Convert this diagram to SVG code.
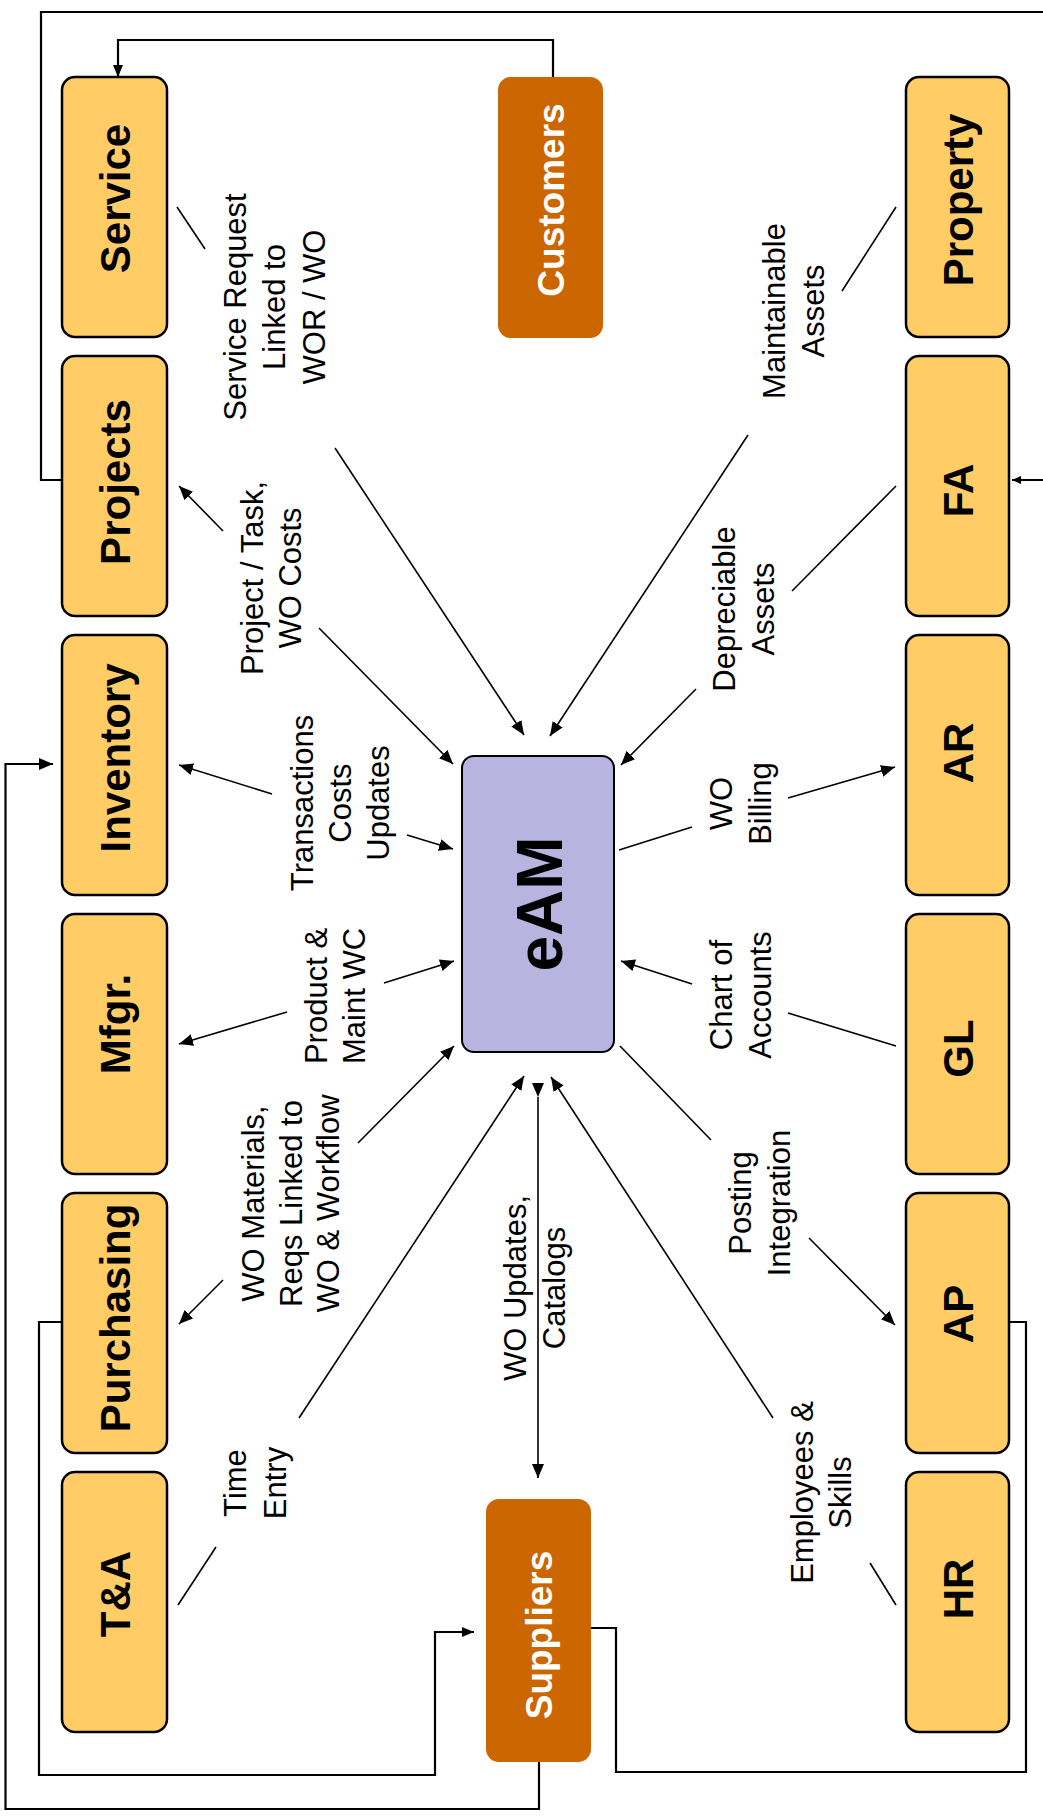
<svg xmlns="http://www.w3.org/2000/svg" width="1043" height="1818" viewBox="0 0 1043 1818">
<defs>
<style>
.box{fill:#FFCC66;stroke:#000;stroke-width:2.5}
.ext{fill:#CC6600;stroke:none}
.core{fill:#B7B4DF;stroke:#000;stroke-width:2}
.bl{font-family:"Liberation Sans",Arial,sans-serif;font-weight:bold;font-size:42px;fill:#000;text-anchor:middle}
.wl{font-family:"Liberation Sans",Arial,sans-serif;font-weight:bold;font-size:37px;fill:#fff;text-anchor:middle}
.el{font-family:"Liberation Sans",Arial,sans-serif;font-weight:bold;font-size:64px;fill:#000;text-anchor:middle}
.lb{font-family:"Liberation Sans",Arial,sans-serif;font-size:31px;fill:#000;text-anchor:middle}
.sp{stroke:#000;stroke-width:1.6;fill:none}
.fr{stroke:#000;stroke-width:2.2;fill:none}
</style>
<marker id="ah" viewBox="0 0 14 12" refX="14" refY="6" markerWidth="14" markerHeight="12" markerUnits="userSpaceOnUse" orient="auto">
<path d="M0,0 L14,6 L0,12 z" fill="#000"/>
</marker>
<marker id="ahs" viewBox="0 0 12 10" refX="12" refY="5" markerWidth="12" markerHeight="10" markerUnits="userSpaceOnUse" orient="auto">
<path d="M0,0 L12,5 L0,10 z" fill="#000"/>
</marker>
<marker id="ahx" viewBox="0 0 9 8" refX="9" refY="4" markerWidth="9" markerHeight="8" markerUnits="userSpaceOnUse" orient="auto">
<path d="M0,0 L9,4 L0,8 z" fill="#000"/>
</marker>
</defs>
<rect width="1043" height="1818" fill="#fff"/>

<g id="connectors">
<path class="fr" d="M61,480 H41 V12 H1048 V480 H1012" marker-end="url(#ahx)"/>
<path class="fr" d="M553,77 V40 H118 V77" marker-end="url(#ahs)"/>
<path class="fr" d="M539,1762 V1809 H5.5 V764 H53" marker-end="url(#ah)"/>
<path class="fr" d="M61,1322 H39 V1775 H435 V1632 H474" marker-end="url(#ahs)"/>
<path class="fr" d="M591,1628 H616 V1772 H1026 V1322 H1010"/>
<line class="sp" x1="177" y1="207" x2="205" y2="249"/>
<line class="sp" x1="335" y1="448" x2="524" y2="735" marker-end="url(#ah)"/>
<line class="sp" x1="896" y1="207" x2="842" y2="291"/>
<line class="sp" x1="748" y1="435" x2="550" y2="736" marker-end="url(#ah)"/>
<line class="sp" x1="223" y1="531" x2="179" y2="486" marker-end="url(#ah)"/>
<line class="sp" x1="319" y1="628" x2="453" y2="764" marker-end="url(#ah)"/>
<line class="sp" x1="896" y1="486" x2="792" y2="591"/>
<line class="sp" x1="696" y1="689" x2="621" y2="765" marker-end="url(#ah)"/>
<line class="sp" x1="272" y1="794" x2="179" y2="765" marker-end="url(#ah)"/>
<line class="sp" x1="407" y1="835" x2="453" y2="849" marker-end="url(#ah)"/>
<line class="sp" x1="619" y1="850" x2="692" y2="827"/>
<line class="sp" x1="788" y1="798" x2="895" y2="767" marker-end="url(#ah)"/>
<line class="sp" x1="287" y1="1012" x2="179" y2="1044" marker-end="url(#ah)"/>
<line class="sp" x1="384" y1="983" x2="454" y2="961" marker-end="url(#ah)"/>
<line class="sp" x1="692" y1="984" x2="621" y2="961" marker-end="url(#ah)"/>
<line class="sp" x1="788" y1="1013" x2="896" y2="1046"/>
<line class="sp" x1="223" y1="1280" x2="179" y2="1324" marker-end="url(#ah)"/>
<line class="sp" x1="358" y1="1143" x2="454" y2="1046" marker-end="url(#ah)"/>
<line class="sp" x1="620" y1="1046" x2="711" y2="1140"/>
<line class="sp" x1="809" y1="1238" x2="895" y2="1325" marker-end="url(#ah)"/>
<line class="sp" x1="178" y1="1605" x2="216" y2="1547"/>
<line class="sp" x1="299" y1="1418" x2="524" y2="1076" marker-end="url(#ah)"/>
<line class="sp" x1="538" y1="1097" x2="538" y2="1478" stroke-width="2" marker-start="url(#ah)" marker-end="url(#ah)"/>
<line class="sp" x1="896" y1="1605" x2="870" y2="1563"/>
<line class="sp" x1="773" y1="1418" x2="551" y2="1077" marker-end="url(#ah)"/>
</g>

<g id="labels">
<text class="lb" transform="translate(245.5,307) rotate(-90)"><tspan x="0" dy="0">Service Request</tspan><tspan x="0" dy="39.5">Linked to</tspan><tspan x="0" dy="39.5">WOR / WO</tspan></text>
<text class="lb" transform="translate(784.5,311) rotate(-90)"><tspan x="0" dy="0">Maintainable</tspan><tspan x="0" dy="39">Assets</tspan></text>
<text class="lb" transform="translate(262.5,578) rotate(-90)"><tspan x="0" dy="0">Project / Task,</tspan><tspan x="0" dy="38.5">WO Costs</tspan></text>
<text class="lb" transform="translate(734.5,609) rotate(-90)"><tspan x="0" dy="0">Depreciable</tspan><tspan x="0" dy="39">Assets</tspan></text>
<text class="lb" transform="translate(313,803) rotate(-90)"><tspan x="0" dy="0">Transactions</tspan><tspan x="0" dy="38">Costs</tspan><tspan x="0" dy="38">Updates</tspan></text>
<text class="lb" transform="translate(731.5,803.5) rotate(-90)"><tspan x="0" dy="0">WO</tspan><tspan x="0" dy="39">Billing</tspan></text>
<text class="lb" transform="translate(326.5,996) rotate(-90)"><tspan x="0" dy="0">Product &amp;</tspan><tspan x="0" dy="38">Maint WC</tspan></text>
<text class="lb" transform="translate(731.5,995) rotate(-90)"><tspan x="0" dy="0">Chart of</tspan><tspan x="0" dy="39">Accounts</tspan></text>
<text class="lb" transform="translate(263.5,1203.5) rotate(-90)"><tspan x="0" dy="0">WO Materials,</tspan><tspan x="0" dy="38">Reqs Linked to</tspan><tspan x="0" dy="37.5">WO &amp; Workflow</tspan></text>
<text class="lb" transform="translate(750.5,1203) rotate(-90)"><tspan x="0" dy="0">Posting</tspan><tspan x="0" dy="39">Integration</tspan></text>
<text class="lb" transform="translate(245.5,1483) rotate(-90)"><tspan x="0" dy="0">Time</tspan><tspan x="0" dy="40">Entry</tspan></text>
<text class="lb" transform="translate(525.5,1288) rotate(-90)"><tspan x="0" dy="0">WO Updates,</tspan><tspan x="0" dy="39">Catalogs</tspan></text>
<text class="lb" transform="translate(812.5,1492.5) rotate(-90)"><tspan x="0" dy="0">Employees &amp;</tspan><tspan x="0" dy="38">Skills</tspan></text>
</g>

<g id="eAM"><rect class="core" x="462" y="756" width="152" height="296" rx="12"/><text class="el" transform="translate(562,904) rotate(-90)">eAM</text></g>

<g id="Service"><rect class="box" x="62" y="77" width="105" height="260" rx="13"/><text class="bl" transform="translate(129.5,198.5) rotate(-90)">Service</text></g>
<g id="Projects"><rect class="box" x="62" y="356" width="105" height="260" rx="13"/><text class="bl" transform="translate(129.5,482) rotate(-90)">Projects</text></g>
<g id="Inventory"><rect class="box" x="62" y="635" width="105" height="260" rx="13"/><text class="bl" transform="translate(129.5,758) rotate(-90)">Inventory</text></g>
<g id="Mfgr"><rect class="box" x="62" y="914" width="105" height="260" rx="13"/><text class="bl" transform="translate(129.5,1024) rotate(-90)">Mfgr.</text></g>
<g id="Purchasing"><rect class="box" x="62" y="1193" width="105" height="260" rx="13"/><text class="bl" transform="translate(129.5,1318) rotate(-90)">Purchasing</text></g>
<g id="TA"><rect class="box" x="62" y="1472" width="105" height="260" rx="13"/><text class="bl" transform="translate(129.5,1594) rotate(-90)">T&amp;A</text></g>

<g id="Property"><rect class="box" x="906" y="77" width="103" height="260" rx="13"/><text class="bl" transform="translate(972.5,200) rotate(-90)">Property</text></g>
<g id="FA"><rect class="box" x="906" y="356" width="103" height="260" rx="13"/><text class="bl" transform="translate(972.5,490.5) rotate(-90)">FA</text></g>
<g id="AR"><rect class="box" x="906" y="635" width="103" height="260" rx="13"/><text class="bl" transform="translate(972.5,753) rotate(-90)">AR</text></g>
<g id="GL"><rect class="box" x="906" y="914" width="103" height="260" rx="13"/><text class="bl" transform="translate(972.5,1048.5) rotate(-90)">GL</text></g>
<g id="AP"><rect class="box" x="906" y="1193" width="103" height="260" rx="13"/><text class="bl" transform="translate(972.5,1314) rotate(-90)">AP</text></g>
<g id="HR"><rect class="box" x="906" y="1472" width="103" height="260" rx="13"/><text class="bl" transform="translate(972.5,1589) rotate(-90)">HR</text></g>

<g id="Customers"><rect class="ext" x="498" y="77" width="105" height="261" rx="13"/><text class="wl" transform="translate(563.7,200) rotate(-90)">Customers</text></g>
<g id="Suppliers"><rect class="ext" x="486" y="1499" width="105" height="263" rx="13"/><text class="wl" transform="translate(551.7,1635) rotate(-90)">Suppliers</text></g>
</svg>
